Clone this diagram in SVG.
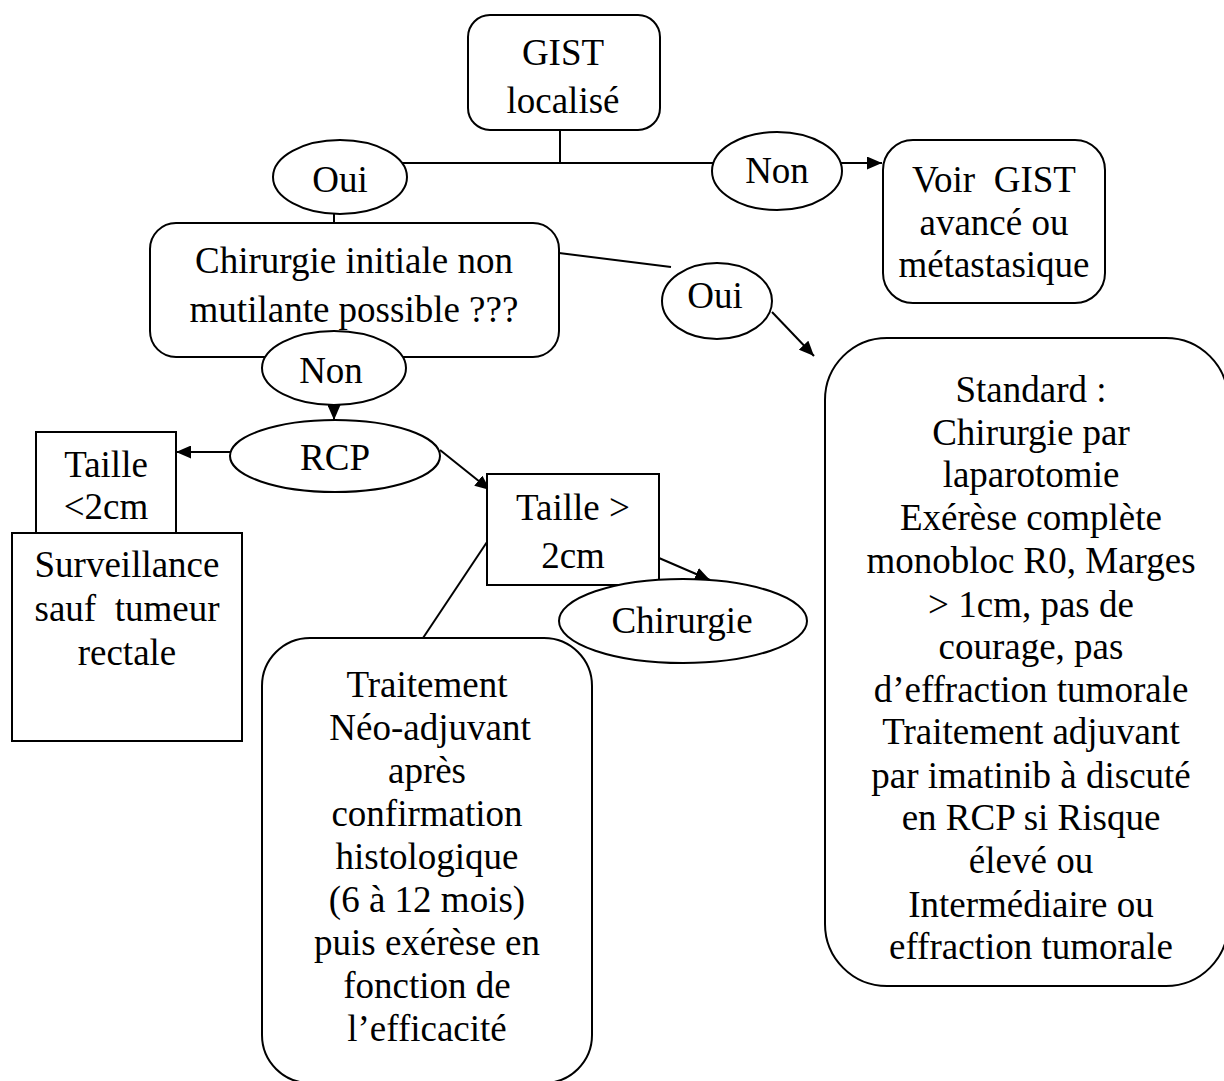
<svg xmlns="http://www.w3.org/2000/svg" width="1224" height="1081" viewBox="0 0 1224 1081">
<style>
  .shape { fill: #fff; stroke: #000; stroke-width: 2; }
  .conn { fill: none; stroke: #000; stroke-width: 2; }
  text { font-family: "Liberation Serif", "Times New Roman", serif; font-size: 37px; fill: #000; text-anchor: middle; white-space: pre; }
</style>
<defs>
  <marker id="arrow" markerUnits="userSpaceOnUse" markerWidth="15" markerHeight="13" viewBox="0 0 15 13" refX="15" refY="6.5" orient="auto">
    <path d="M0,0 L15,6.5 L0,13 z" fill="#000"/>
  </marker>
  <clipPath id="clipStd">
    <rect x="825" y="338" width="403" height="623"/>
  </clipPath>
</defs>
<rect width="1224" height="1081" fill="#fff"/>

<g id="connectors">
  <line class="conn" x1="560" y1="130" x2="560" y2="163"/>
  <line class="conn" x1="402" y1="163" x2="713" y2="163"/>
  <line class="conn" x1="841" y1="163" x2="882" y2="163" marker-end="url(#arrow)"/>
  <line class="conn" x1="334" y1="213" x2="334" y2="223"/>
  <line class="conn" x1="559" y1="253" x2="671" y2="267"/>
  <line class="conn" x1="772" y1="312" x2="814" y2="356" marker-end="url(#arrow)"/>
  <line class="conn" x1="334" y1="404" x2="334" y2="420" marker-end="url(#arrow)"/>
  <line class="conn" x1="230" y1="452" x2="176" y2="452" marker-end="url(#arrow)"/>
  <line class="conn" x1="440" y1="450" x2="490" y2="490" marker-end="url(#arrow)"/>
  <line class="conn" x1="659" y1="558" x2="710" y2="580" marker-end="url(#arrow)"/>
  <line class="conn" x1="487" y1="542" x2="423" y2="638"/>
  <line class="conn" x1="101" y1="518" x2="101" y2="533"/>
</g>

<g id="gist-localise">
  <rect class="shape" x="468" y="15" width="192" height="115" rx="22"/>
  <text x="563" y="65">GIST</text>
  <text x="563" y="113">localisé</text>
</g>

<g id="oui-1">
  <ellipse class="shape" cx="340" cy="177" rx="67" ry="37"/>
  <text x="340" y="192">Oui</text>
</g>

<g id="non-1">
  <ellipse class="shape" cx="777" cy="171" rx="65" ry="39"/>
  <text x="777" y="183">Non</text>
</g>

<g id="voir-gist">
  <rect class="shape" x="883" y="140" width="222" height="163" rx="30"/>
  <text x="994" y="192">Voir  GIST</text>
  <text x="994" y="235">avancé ou</text>
  <text x="994" y="277">métastasique</text>
</g>

<g id="chirurgie-initiale">
  <rect class="shape" x="150" y="223" width="409" height="134" rx="26"/>
  <text x="354" y="273">Chirurgie initiale non</text>
  <text x="354" y="322">mutilante possible ???</text>
</g>

<g id="oui-2">
  <ellipse class="shape" cx="717" cy="301" rx="55" ry="38"/>
  <text x="715" y="308">Oui</text>
</g>

<g id="non-2">
  <ellipse class="shape" cx="334" cy="368" rx="72" ry="37"/>
  <text x="331" y="383">Non</text>
</g>

<g id="rcp">
  <ellipse class="shape" cx="335" cy="456" rx="105" ry="36"/>
  <text x="335" y="470">RCP</text>
</g>

<g id="taille-inf">
  <rect class="shape" x="36" y="432" width="140" height="101"/>
  <text x="106" y="477">Taille</text>
  <text x="106" y="519">&lt;2cm</text>
</g>

<g id="surveillance">
  <rect class="shape" x="12" y="533" width="230" height="208"/>
  <text x="127" y="577">Surveillance</text>
  <text x="127" y="621">sauf  tumeur</text>
  <text x="127" y="665">rectale</text>
</g>

<g id="taille-sup">
  <rect class="shape" x="487" y="474" width="172" height="111"/>
  <text x="573" y="520">Taille &gt;</text>
  <text x="573" y="568">2cm</text>
</g>

<g id="chirurgie">
  <ellipse class="shape" cx="683" cy="621" rx="124" ry="42"/>
  <text x="682" y="633">Chirurgie</text>
</g>

<g id="traitement-neo">
  <rect class="shape" x="262" y="638" width="330" height="445" rx="48"/>
  <text x="427" y="697">Traitement</text>
  <text x="430" y="740">Néo-adjuvant</text>
  <text x="427" y="783">après</text>
  <text x="427" y="826">confirmation</text>
  <text x="427" y="869">histologique</text>
  <text x="427" y="912">(6 à 12 mois)</text>
  <text x="427" y="955">puis exérèse en</text>
  <text x="427" y="998">fonction de</text>
  <text x="427" y="1041">l’efficacité</text>
</g>

<g id="standard">
  <rect class="shape" x="825" y="338" width="403" height="648" rx="62"/>
  <g clip-path="url(#clipStd)">
    <text x="1031" y="402">Standard :</text>
    <text x="1031" y="445">Chirurgie par</text>
    <text x="1031" y="487">laparotomie</text>
    <text x="1031" y="530">Exérèse complète</text>
    <text x="1031" y="573">monobloc R0, Marges</text>
    <text x="1031" y="617">&gt; 1cm, pas de</text>
    <text x="1031" y="659">courage, pas</text>
    <text x="1031" y="702">d’effraction tumorale</text>
    <text x="1031" y="744">Traitement adjuvant</text>
    <text x="1031" y="788">par imatinib à discuté</text>
    <text x="1031" y="830">en RCP si Risque</text>
    <text x="1031" y="873">élevé ou</text>
    <text x="1031" y="917">Intermédiaire ou</text>
    <text x="1031" y="959">effraction tumorale</text>
  </g>
</g>
</svg>
